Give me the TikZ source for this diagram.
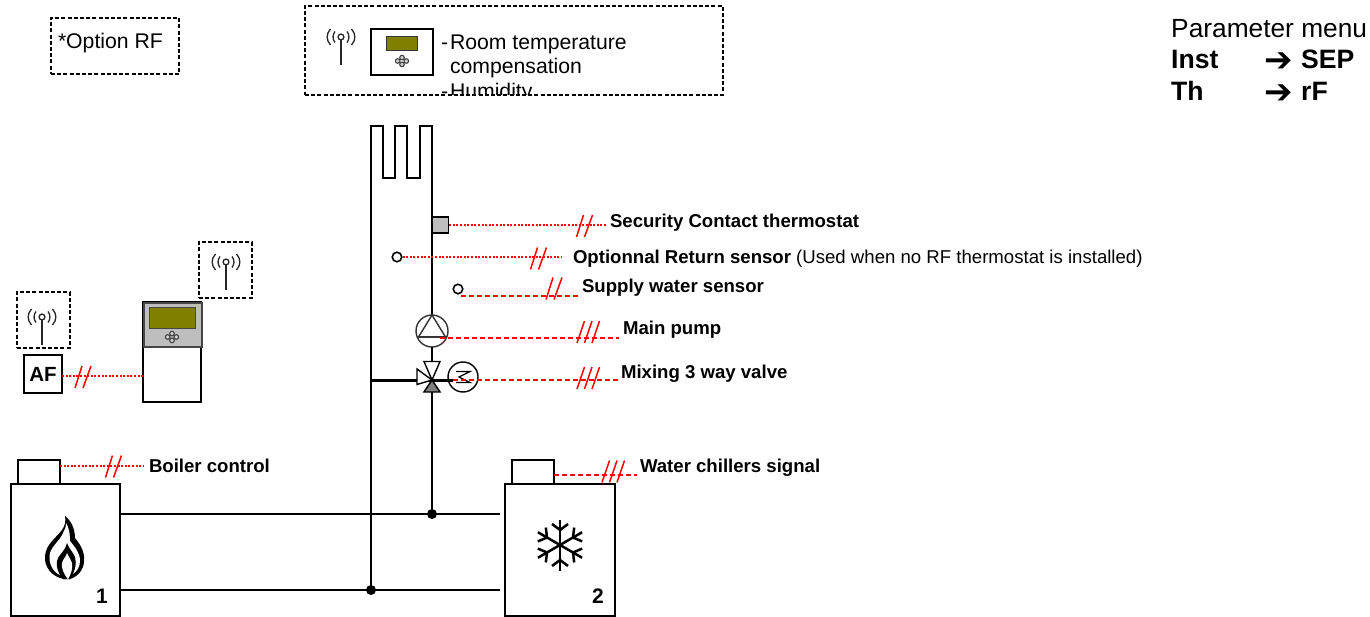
\documentclass[tikz,border=0pt]{standalone}
\usepackage{fontspec}
\setmainfont{Liberation Sans}
\newfontfamily\djv{DejaVu Sans}
\definecolor{olivedisp}{RGB}{128,128,0}
\definecolor{panelgray}{RGB}{190,190,190}
\definecolor{darkpanel}{RGB}{70,70,70}
\definecolor{sliderred}{RGB}{255,0,0}
\newcommand{\szlabel}{\fontsize{18.6}{22}\selectfont\bfseries}
\tikzset{
  x=1pt,y=-1pt,
  plain/.style={draw=black,line width=1.6pt,line join=miter},
  pipe/.style={black,line width=1.7pt},
  thickpipe/.style={black,line width=3pt},
  boxn/.style={draw=black,line width=1.7pt,fill=white,anchor=north west,inner sep=0pt,outer sep=0pt},
  dashbox/.style={draw=black,line width=1.2pt,dash pattern=on 4pt off 2.2pt,anchor=north west,inner sep=0pt,outer sep=0pt},
  reddot/.style={draw=sliderred,line width=1.7pt,dash pattern=on 2pt off 1.6pt},
  reddash/.style={draw=sliderred,line width=1.8pt,dash pattern=on 5pt off 3pt},
  redtick/.style={draw=sliderred,line width=1.5pt},
  lab/.style={anchor=base west,inner sep=0pt,outer sep=0pt,font=\szlabel},
  txt/.style={anchor=base west,inner sep=0pt,outer sep=0pt,font=\fontsize{21.2}{24}\selectfont},
  pmbold/.style={anchor=base west,inner sep=0pt,font=\fontsize{26.6}{28}\selectfont\bfseries},
  pmarrow/.style={anchor=base west,inner sep=0pt,font=\djv\fontsize{34}{36}\selectfont\bfseries},
  dotn/.style={circle,fill=black,inner sep=0pt,minimum size=10pt},
  sensor/.style={circle,draw=black,line width=1.6pt,fill=white,inner sep=0pt,minimum size=9.5pt},
  pics/ticktwo/.style={code={
    \draw[redtick] (-8,11) -- (-1,-11);
    \draw[redtick] (0,11) -- (8,-11);}},
  pics/tickthree/.style={code={
    \draw[redtick] (-7.5,11) -- (0,-11);
    \draw[redtick] (0,11) -- (7.5,-11);
    \draw[redtick] (7.5,11) -- (15,-11);}},
  pics/antenna/.style={code={
    \draw[line width=1.5pt,black!85] (0,2.8) -- (0,28);
    \draw[line width=1.3pt,black!85,fill=white] (0,0) circle (2.9);
    \draw[line width=1.3pt,black!85] (-6,-5.5) .. controls (-8.6,-2.5) and (-8.6,2.5) .. (-6,5.5);
    \draw[line width=1.3pt,black!85] (6,-5.5) .. controls (8.6,-2.5) and (8.6,2.5) .. (6,5.5);
    \draw[line width=1.3pt,black!85] (-10.5,-8) .. controls (-15,-3) and (-15,3) .. (-10.5,8);
    \draw[line width=1.3pt,black!85] (10.5,-8) .. controls (15,-3) and (15,3) .. (10.5,8);}},
  pics/keypad/.style={code={
    \foreach \dx/\dy in {-4.3/0,4.3/0,0/-3.4,0/3.4}
      \draw[line width=1.1pt,black!75,fill=panelgray!70] (\dx,\dy) circle (2.3);}}
}
\begin{document}
\begin{tikzpicture}
\useasboundingbox (0,0) rectangle (1370,617);

% --- top right text
\node[anchor=base west,inner sep=0pt,font=\fontsize{26.3}{28}\selectfont] (pm) at (1171,38) {Parameter menu};
\node[pmbold] (inst) at (1171,69) {Inst};
\node[pmarrow] (arr1) at (1264,71.5) {➔};
\node[pmbold] (sep) at (1301,69) {SEP};
\node[pmbold] (th) at (1171,101) {Th};
\node[pmarrow] (arr2) at (1264,103.5) {➔};
\node[pmbold] (rf) at (1301,101) {rF};

% --- option box
\node[dashbox,minimum width=128pt,minimum height=56pt] (opt) at (51,18) {};
\node[txt] (opttxt) at (58,49) {*Option RF};

% --- top dashed box with clipped text
\begin{scope}
  \clip (300,0) rectangle (730,95);
  \node[txt] (t1) at (441,50) {-};
  \node[txt] (t2) at (450,50) {Room temperature};
  \node[txt] (t3) at (450,74) {compensation};
  \node[txt] (t4) at (441,99) {-};
  \node[txt] (t5) at (450,99) {Humidity};
\end{scope}
\node[dashbox,minimum width=418pt,minimum height=89pt] (topbox) at (305,6) {};
\pic at (341,37) {antenna};
\node[boxn,minimum width=62pt,minimum height=46pt] (thermo) at (371,29) {};
\node[draw=black!80,line width=1.2pt,fill=olivedisp,anchor=north west,inner sep=0pt,minimum width=31pt,minimum height=14pt] (thermodisp) at (386,36) {};
\pic at (402,61) {keypad};

% --- radiant floor loop
\draw[plain,line cap=butt] (371,178) -- (371,126) -- (383,126) -- (383,178) -- (395,178) -- (395,126) -- (407,126) -- (407,178) -- (420,178) -- (420,126) -- (432,126) -- (432,178);

% --- vertical pipes
\coordinate (jA) at (371,590);
\coordinate (jB) at (432,514);
\coordinate (vA) at (371,178);
\coordinate (vB) at (432,178);
\coordinate (mixL) at (371,380);
\draw[pipe] (vA) -- (jA);
\draw[pipe] (vB) -- (jB);

% --- sensors and devices
\node[draw=black,line width=1.6pt,fill=panelgray,anchor=north west,inner sep=0pt,minimum size=16pt] (sec) at (431.5,216) {};
\node[sensor] (ret) at (397,257) {};
\node[sensor] (sup) at (458,289) {};
\node[circle,draw=black!80,line width=1.4pt,fill=white,inner sep=0pt,minimum size=32pt] (pump) at (432,331) {};
\draw[line width=1.4pt,black!80] (432,315) -- (418.5,337) -- (445.5,337) -- cycle;
\draw[line width=1.4pt,black!80] (417.5,337) -- (446.5,337);

% valve
\coordinate (vc) at (432,380);
\draw[thickpipe] (mixL) -- (453,380);
\draw[line width=1.4pt,black,fill=white] (424,361.5) -- (440,361.5) -- (vc) -- cycle;
\draw[line width=1.4pt,black,fill=white] (417,369) -- (417,384.5) -- (vc) -- cycle;
\draw[line width=1.4pt,black,fill=gray] (424,392) -- (440,392) -- (vc) -- cycle;
\node[circle,draw=black,line width=1.4pt,fill=white,inner sep=0pt,minimum size=30pt] (act) at (463,377) {};
\draw[line width=1.2pt,black] (456,371.5) -- (470,371.5) -- (459,377) -- (470,382.5) -- (456,382.5);
\draw[thickpipe] (445,380) -- (453,380);

% junctions
\node[dotn] (dotA) at (jA) {};
\node[dotn] (dotB) at (jB) {};

% --- controller
\node[boxn,line width=1.2pt,minimum width=58pt,minimum height=100pt] (ctrl) at (143,302) {};
\node[draw=darkpanel,line width=1.6pt,fill=panelgray,anchor=north west,inner sep=0pt,minimum width=58pt,minimum height=44pt] (panel) at (143,302) {};
\node[draw=darkpanel,line width=1.3pt,fill=olivedisp,anchor=north west,inner sep=0pt,minimum width=46pt,minimum height=21pt] (disp) at (149,307) {};
\pic at (172,337) {keypad};

\node[dashbox,line width=1.6pt,minimum width=53pt,minimum height=56pt] (antbox1) at (199,242) {};
\pic at (226,262) {antenna};
\node[dashbox,line width=1.6pt,minimum width=53pt,minimum height=56pt] (antbox2) at (17,292) {};
\pic at (42,317) {antenna};
\node[boxn,minimum size=38pt,font=\fontsize{20.5}{24}\selectfont\bfseries] (af) at (24,355) {AF};

% --- boiler and chiller
\node[boxn,minimum width=42pt,minimum height=24pt] (btop) at (18,460) {};
\node[boxn,minimum width=109pt,minimum height=132pt] (boiler) at (11,484) {};
\node[boxn,minimum width=42pt,minimum height=24pt] (ctop) at (512,460) {};
\node[boxn,minimum width=110pt,minimum height=132pt] (chiller) at (505,484) {};
\node[lab,font=\fontsize{21}{24}\selectfont\bfseries] (n1) at (96,603) {1};
\node[lab,font=\fontsize{21}{24}\selectfont\bfseries] (n2) at (592,603) {2};

% pipes between units
\draw[pipe,shorten >=5pt] (boiler.east |- jB) -- (chiller.west |- jB);
\draw[pipe,shorten >=5pt] (boiler.east |- jA) -- (chiller.west |- jA);

% flame
\fill[black] (65,516) .. controls (73,522) and (75,532) .. (75,538) .. controls (80,544) and (85,552) .. (84,561) .. controls (84,570) and (77,577) .. (70,579) -- (64,579) .. controls (52,577) and (44,567) .. (45,556) .. controls (46,544) and (56,538) .. (62,530) .. controls (65,526) and (66,521) .. (65,516) -- cycle;
\fill[white] (66,523) .. controls (70,530) and (70,537) .. (70,541) .. controls (75,547) and (80,553) .. (80,561) .. controls (80,567) and (77,571) .. (73,574) -- (60,575) .. controls (53,572) and (49,564) .. (49.5,556) .. controls (50,547) and (60,541) .. (63,533) .. controls (65,530) and (66,527) .. (66,523) -- cycle;
\fill[black] (67,543) .. controls (69,549) and (73,552) .. (75,557) .. controls (77,563) and (75,572) .. (70,579) -- (63,579) .. controls (58,573) and (55,565) .. (58,558) .. controls (61,553) and (66,549) .. (67,543) -- cycle;
\fill[white] (67,553) .. controls (69,557) and (71,560) .. (72,563) .. controls (73,568) and (71,574) .. (68,579.5) .. controls (64,574) and (61,568) .. (62,563) .. controls (63,559) and (66,557) .. (67,553) -- cycle;

% snowflake
\begin{scope}[shift={(560,545)}]
  \foreach \a in {90,30,-30,-90,-150,150}{
    \draw[line width=2.5pt,black,rotate=\a] (0,0) -- (25.5,0);
    \draw[line width=2.5pt,black,rotate=\a] (15,0) -- (21,-8);
    \draw[line width=2.5pt,black,rotate=\a] (15,0) -- (21,8);
  }
\end{scope}

% --- labels
\node[lab] (lsec) at (610,228) {Security Contact thermostat};
\node[lab] (lret) at (573,264) {Optionnal Return sensor \mdseries\fontsize{18.6}{22}\selectfont(Used when no RF thermostat is installed)};
\node[lab] (lsup) at (582,293) {Supply water sensor};
\node[lab] (lpump) at (623,335) {Main pump};
\node[lab] (lmix) at (621,378) {Mixing 3 way valve};
\node[lab] (lboil) at (149,472) {Boiler control};
\node[lab] (lchil) at (640,472) {Water chillers signal};

% --- red signal lines
\coordinate (eSec) at (607,225);
\coordinate (eRet) at (562,257);
\coordinate (sSup) at (461,296);
\coordinate (eSup) at (581,296);
\coordinate (sPump) at (440,338);
\coordinate (ePump) at (619,338);
\coordinate (sMix) at (453,380);
\coordinate (eMix) at (619,380);
\coordinate (eAF) at (143,376);
\coordinate (eBoil) at (143,466);
\coordinate (sChil) at (554,475);
\coordinate (eChil) at (637,475);
\draw[reddot] (sec.east |- eSec) -- (eSec);
\draw[reddot] (ret.east |- eRet) -- (eRet);
\draw[reddash] (sSup) -- (eSup);
\draw[reddash] (sPump) -- (ePump);
\draw[reddash,line width=2.8pt] (sMix) -- (eMix);
\draw[reddot] (af.east |- eAF) -- (ctrl.west |- eAF);
\draw[reddot] (btop.east |- eBoil) -- (eBoil);
\draw[reddash] (ctop.east |- sChil) -- (eChil);

\pic at (584.5,226) {ticktwo};
\pic at (538.5,258.5) {ticktwo};
\pic at (554,288.5) {ticktwo};
\pic at (584.5,332) {tickthree};
\pic at (584.5,378) {tickthree};
\pic at (83,377) {ticktwo};
\pic at (113.5,466.5) {ticktwo};
\pic at (609.5,471.5) {tickthree};
\end{tikzpicture}
\end{document}
